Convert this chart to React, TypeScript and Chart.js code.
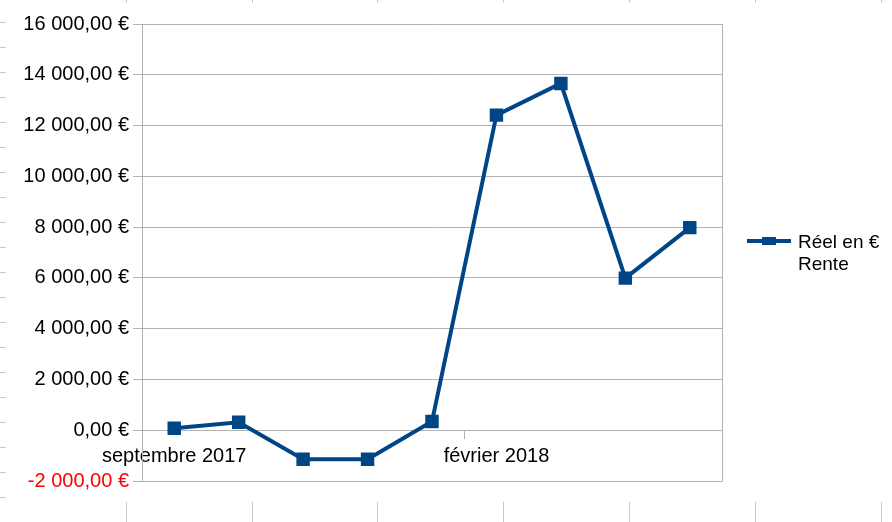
import React, { useEffect, useRef } from "react";
import Chart from "chart.js/auto";

// Rente mensuelle, réel en €
const months = [
  "septembre 2017",
  "octobre 2017",
  "novembre 2017",
  "décembre 2017",
  "janvier 2018",
  "février 2018",
  "mars 2018",
  "avril 2018",
  "mai 2018",
];
const reelRente = [80, 315, -1140, -1140, 340, 12410, 13660, 5990, 7980];
const yMin = -2000;
const yMax = 16000;
const yStep = 2000;
const seriesLabel = ["Réel en €", "Rente"];

const BLUE = "#004586";
const GRID = "#b3b3b3";
const FONT = "'Liberation Sans', Arial, sans-serif";

const euro = (v: number) => {
  const [int, dec] = Math.abs(v).toFixed(2).split(".");
  const grouped = int.replace(/\B(?=(\d{3})+(?!\d))/g, " ");
  return (v < 0 ? "-" : "") + grouped + "," + dec + " €";
};

// right border of the plot, the legend and the faint spreadsheet cell lines
const extras = {
  id: "extras",
  afterDraw(chart: any) {
    const { ctx, chartArea } = chart;
    ctx.save();

    ctx.strokeStyle = GRID;
    ctx.lineWidth = 1;
    ctx.beginPath();
    ctx.moveTo(chartArea.right + 0.5, chartArea.top);
    ctx.lineTo(chartArea.right + 0.5, chartArea.bottom + 0.5);
    ctx.stroke();

    // sheet cell borders peeking around the chart object
    ctx.strokeStyle = "#c8c8c8";
    ctx.beginPath();
    for (let k = 0; k < 20; k++) {
      const y = Math.round(22.3 + 25 * k) + 0.5;
      ctx.moveTo(0, y);
      ctx.lineTo(6, y);
    }
    for (let k = 1; k <= 7; k++) {
      const x = Math.round(125.8 * k) + 0.5;
      ctx.moveTo(x, 0);
      ctx.lineTo(x, 3);
      ctx.moveTo(x, 502);
      ctx.lineTo(x, 522);
    }
    ctx.stroke();

    // legend
    const lx = chartArea.right + 25;
    const ly = 241;
    ctx.strokeStyle = BLUE;
    ctx.lineWidth = 4;
    ctx.beginPath();
    ctx.moveTo(lx, ly);
    ctx.lineTo(lx + 44, ly);
    ctx.stroke();
    ctx.fillStyle = BLUE;
    ctx.fillRect(lx + 15, ly - 4, 14, 8);

    ctx.fillStyle = "#000";
    ctx.font = `19px ${FONT}`;
    ctx.textAlign = "left";
    ctx.textBaseline = "alphabetic";
    seriesLabel.forEach((t, i) => ctx.fillText(t, lx + 51, 248 + i * 21.6));

    ctx.restore();
  },
};

const LineChart = () => {
  const chartRef = useRef<HTMLCanvasElement | null>(null);

  useEffect(() => {
    if (!chartRef.current) return;
    const ctx = chartRef.current.getContext("2d");
    if (!ctx) return;

    const chart = new Chart(ctx, {
      type: "line",
      data: {
        labels: months,
        datasets: [
          {
            label: seriesLabel.join(" "),
            data: reelRente,
            borderColor: BLUE,
            backgroundColor: BLUE,
            borderWidth: 4,
            pointStyle: "rect",
            pointRadius: 9.5,
            pointBorderWidth: 0,
            tension: 0,
          },
        ],
      },
      options: {
        animation: false,
        responsive: true,
        maintainAspectRatio: false,
        layout: { padding: { left: 0, top: 24, right: 170, bottom: 41 } },
        plugins: {
          legend: { display: false },
          tooltip: { enabled: false },
        },
        scales: {
          x: {
            position: { y: 0 },
            offset: true,
            grid: {
              offset: true,
              drawOnChartArea: false,
              drawTicks: true,
              tickLength: 8,
              tickColor: (c: any) => (c.index % 5 === 0 ? GRID : "rgba(0,0,0,0)"),
            },
            border: { display: true, color: GRID },
            ticks: {
              autoSkip: false,
              maxRotation: 0,
              padding: 6,
              color: "#000",
              font: { family: FONT, size: 20 },
              callback: (_v: any, i: number) => (i % 5 === 0 ? months[i] : ""),
            },
          },
          y: {
            min: yMin,
            max: yMax,
            afterFit: (scale: any) => {
              scale.width = 142;
            },
            grid: { color: GRID, tickLength: 9, tickColor: GRID },
            border: { display: true, color: GRID },
            ticks: {
              stepSize: yStep,
              padding: 4,
              color: (c: any) => (c.tick && c.tick.value < 0 ? "#ff0000" : "#000"),
              font: { family: FONT, size: 20 },
              callback: (v: any) => euro(Number(v)),
            },
          },
        },
      },
      plugins: [extras],
    });

    return () => {
      chart.destroy();
    };
  }, []);

  return (
    <div style={{ position: "absolute", left: 0, top: 0, width: 892, height: 522, background: "#fff" }}>
      <canvas ref={chartRef} />
    </div>
  );
};

export default function App() {
  return <LineChart />;
}
